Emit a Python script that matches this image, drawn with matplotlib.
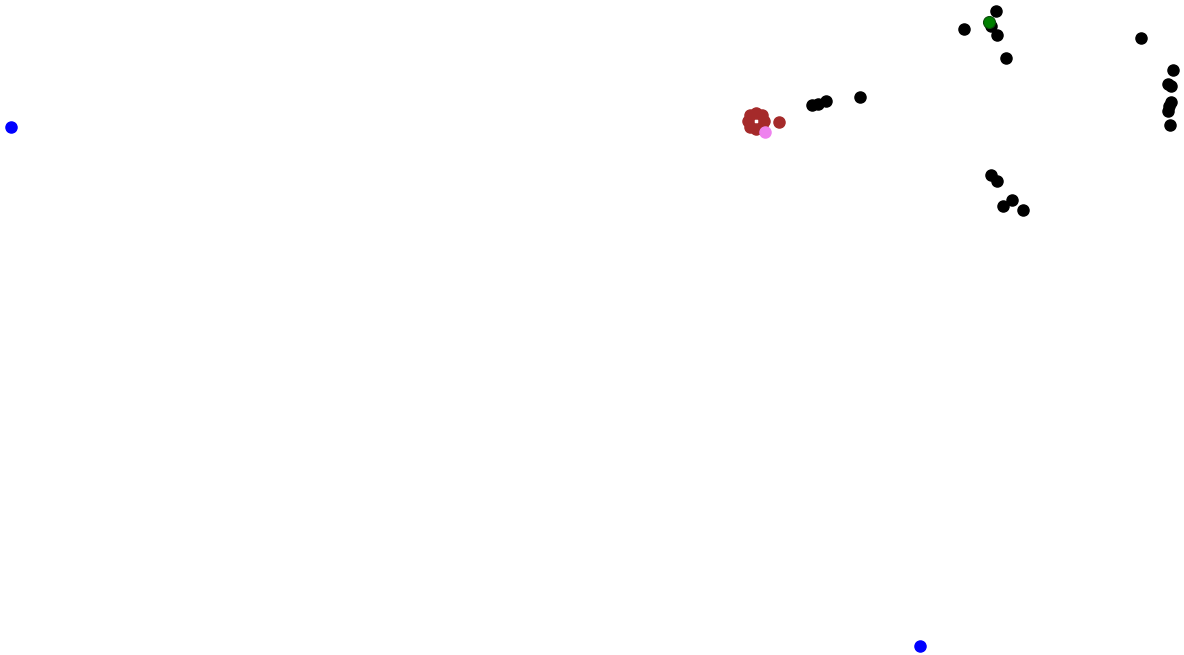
import matplotlib
matplotlib.use("Agg")
import matplotlib.pyplot as plt

# node positions (screen-like coordinates, y grows downward)
black_x = [812, 818, 826, 860, 964, 996, 991, 997, 1006, 1141, 1173, 1168, 1171, 1171, 1169, 1168, 1170,
           991, 997, 1012, 1003, 1023]
black_y = [105, 104, 101, 97, 29, 11, 26, 35, 58, 38, 70, 84, 86, 102, 106, 111, 125,
           175, 181, 200, 206, 210]

brown_x = [756, 762, 764, 762, 756, 750, 748, 750, 779]
brown_y = [113, 115, 121, 127, 129, 127, 121, 115, 122]

pink_x = [765]
pink_y = [132]

green_x = [989]
green_y = [22]

blue_x = [11, 920]
blue_y = [127, 646]

fig = plt.figure(figsize=(11.84, 6.55), dpi=100)
ax = fig.add_axes([0, 0, 1, 1])

s = 64
ax.scatter(black_x, black_y, s=s, c="black", zorder=2)
ax.scatter(brown_x, brown_y, s=s, c="#a52a2a", zorder=3)
ax.scatter(pink_x, pink_y, s=s, c="violet", zorder=4)
ax.scatter(green_x, green_y, s=s + 10, c="green", edgecolors="#0a4a0a", linewidths=0.8, zorder=4)
ax.scatter(blue_x, blue_y, s=s, c="blue", zorder=3)

ax.set_xlim(0, 1184)
ax.set_ylim(655, 0)
ax.axis("off")

fig.savefig("out.png", dpi=100)
